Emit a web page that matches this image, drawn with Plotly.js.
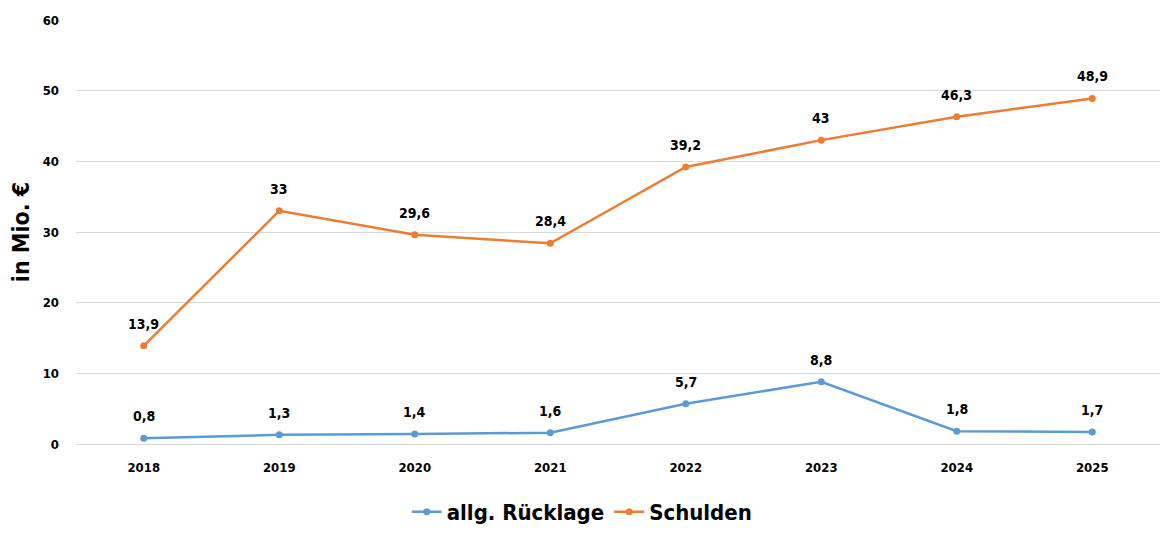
<!DOCTYPE html>
<html>
<head>
<meta charset="utf-8">
<script src="https://cdn.plot.ly/plotly-3.0.1.min.js"></script>
<style>
  html, body { margin: 0; padding: 0; background: #fff; }
  #chart { width: 1160px; height: 534px; }
</style>
</head>
<body>
<div id="chart"></div>
<script>
const years = ["2018", "2019", "2020", "2021", "2022", "2023", "2024", "2025"];
const ruecklage = [0.8, 1.3, 1.4, 1.6, 5.7, 8.8, 1.8, 1.7];
const schulden = [13.9, 33, 29.6, 28.4, 39.2, 43, 46.3, 48.9];
const yTicks = [0, 10, 20, 30, 40, 50, 60];

const fontFam = "'DejaVu Sans Condensed', 'Liberation Sans', sans-serif";

// komma statt punkt
const fmt = v => String(v).replace(".", ",");

let trace1 = {
    x: years,
    y: ruecklage,
    name: "allg. Rücklage",
    type: 'scatter',
    mode: 'lines+markers',
    marker: { color: '#5B9BD5', size: 7 },
    line: { color: '#5B9BD5', width: 2.5 }
};
let trace2 = {
    x: years,
    y: schulden,
    name: "Schulden",
    type: 'scatter',
    mode: 'lines+markers',
    marker: { color: '#ED7D31', size: 7 },
    line: { color: '#ED7D31', width: 2.5 }
};

// datenbeschriftungen etwas oberhalb der punkte
function labels(vals) {
    return vals.map((v, i) => ({
        x: i,
        y: v,
        xref: 'x',
        yref: 'y',
        text: '<b>' + fmt(v) + '</b>',
        showarrow: false,
        yshift: 22,
        font: { family: fontFam, size: 14, color: '#000' }
    }));
}

let layout = {
    width: 1160,
    height: 534,
    margin: { l: 76, r: 0, t: 20, b: 90 },
    paper_bgcolor: '#fff',
    plot_bgcolor: '#fff',
    font: { family: fontFam, color: '#000' },
    showlegend: true,
    legend: {
        orientation: 'h',
        x: 0.467, xanchor: 'center',
        y: -0.16, yanchor: 'middle',
        font: { family: fontFam, size: 22, weight: 'bold', color: '#000' },
        itemwidth: 30
    },
    annotations: labels(ruecklage).concat(labels(schulden)),
    xaxis: {
        type: 'category',
        range: [-0.5, 7.5],
        automargin: false,
        showgrid: false,
        zeroline: false,
        showline: false,
        ticks: '',
        ticklabelstandoff: 14,
        tickfont: { family: fontFam, size: 13, weight: 'bold' },
        fixedrange: true
    },
    yaxis: {
        title: { text: 'in Mio. €', font: { family: fontFam, size: 23, weight: 'bold' }, standoff: 6 },
        range: [0, 60],
        automargin: false,
        tickvals: yTicks,
        ticktext: yTicks.map(String),
        tickfont: { family: fontFam, size: 13, weight: 'bold' },
        showgrid: true,
        gridcolor: '#d9d9d9',
        gridwidth: 1,
        zeroline: true,
        zerolinecolor: '#d9d9d9',
        zerolinewidth: 1,
        ticks: '',
        ticklabelstandoff: 16,
        fixedrange: true
    }
};

Plotly.newPlot('chart', [trace1, trace2], layout, { displayModeBar: false, staticPlot: true });
</script>
</body>
</html>
